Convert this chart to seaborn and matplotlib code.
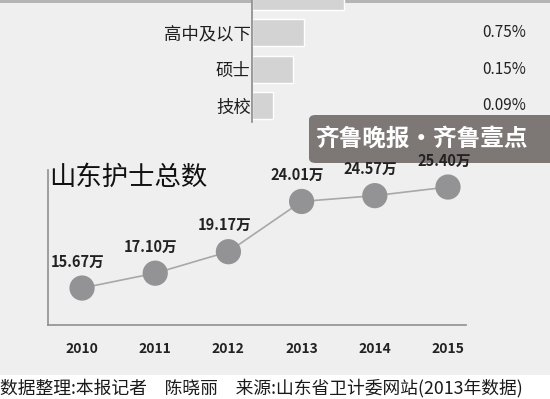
import numpy as np
import pandas as pd
import matplotlib
matplotlib.use("Agg")
import matplotlib.pyplot as plt
import matplotlib.transforms as mtransforms
from matplotlib.patches import FancyBboxPatch, Rectangle
import seaborn as sns

# education breakdown (top bar is cut off in the source, label not visible)
edu_labels = ["", "高中及以下", "硕士", "技校"]
edu_pct = ["", "0.75%", "0.15%", "0.09%"]
edu_bar = [31.0, 17.4, 13.8, 7.0]   # bar lengths as drawn in the picture

# nurses in Shandong (unit: 万)
years = [2010, 2011, 2012, 2013, 2014, 2015]
nurses = [15.67, 17.10, 19.17, 24.01, 24.57, 25.40]

title = "山东护士总数"
footer = "数据整理:本报记者　陈晓丽　来源:山东省卫计委网站(2013年数据)"
watermark = "齐鲁晚报·齐鲁壹点"

sns.set_style("white")
plt.rcParams['font.family'] = ['Noto Sans CJK SC', 'DejaVu Sans']

BG = "#efefef"
W, H = 550, 399
fig = plt.figure(figsize=(5.5, 3.99), dpi=100, facecolor=BG)

# ---- top: horizontal bars ----
ax1 = fig.add_axes([252 / W, 1 - 122 / H, (W - 252) / W, 122 / H])
ax1.set_facecolor("none")
edu_df = pd.DataFrame({"label": edu_labels, "bar": edu_bar})
sns.barplot(data=edu_df, x="bar", y="label", orient="h", color="#d3d3d3",
            saturation=1, width=0.74, ax=ax1)
ax1.set_xlim(0, 100)
ax1.set_ylim(3.45, 0.096)
ax1.set_xlabel("")
ax1.set_ylabel("")
ax1.set_xticks([])
ax1.tick_params(axis="y", length=0, pad=1, labelsize=12.5, labelcolor="#1e1e1e")
for s in ["top", "right", "bottom"]:
    ax1.spines[s].set_visible(False)
ax1.spines["left"].set_color("#8a8a8a")
ax1.spines["left"].set_linewidth(1.2)
trans = mtransforms.blended_transform_factory(ax1.transAxes, ax1.transData)
for i, p in enumerate(edu_pct):
    ax1.text(0.92, i, p, transform=trans, ha="right", va="center",
             fontsize=11, color="#222222")

# ---- bottom: line chart ----
ax2 = fig.add_axes([48 / W, 1 - 325 / H, (466 - 48) / W, (325 - 170) / H])
ax2.set_facecolor("none")
sns.lineplot(x=years, y=nurses, color="#a8a8a8", linewidth=1.2, ax=ax2, zorder=2)
sns.scatterplot(x=years, y=nurses, s=330, color="#939396", edgecolor="none",
                ax=ax2, zorder=3)
ax2.set_xlim(2009.535, 2015.246)
ax2.set_ylim(12.11, 27.04)
ax2.set_yticks([])
ax2.set_xticks(years)
ax2.set_xticklabels([str(y) for y in years], fontsize=10, fontweight="bold",
                    color="#222222")
ax2.tick_params(axis="x", length=0, pad=12)
for s in ["top", "right"]:
    ax2.spines[s].set_visible(False)
for s in ["left", "bottom"]:
    ax2.spines[s].set_color("#8f8f8f")
    ax2.spines[s].set_linewidth(1.2)
for x, v in zip(years, nurses):
    ax2.annotate(f"{v:.2f}万", (x, v), xytext=(-3, 19), textcoords="offset points",
                 ha="center", va="center", fontsize=10.5, fontweight="bold",
                 color="#222222", annotation_clip=False, zorder=5)

fig.text(49 / W, 1 - 177 / H, title, fontsize=19, va="center", ha="left",
         color="#111111")

# watermark box
box = FancyBboxPatch((309 / W, 1 - 163 / H), 260 / W, 48 / H,
                     boxstyle="round,pad=0,rounding_size=0.012",
                     transform=fig.transFigure, facecolor="#7d7876",
                     edgecolor="none", zorder=-1)
fig.patches.append(box)
fig.text(315 / W, 1 - 139 / H, watermark, fontsize=17, fontweight="bold",
         color="white", va="center", ha="left", zorder=-1)

# top strip and footer band
fig.patches.append(Rectangle((0, 1 - 3 / H), 1, 3 / H, transform=fig.transFigure,
                             facecolor="#b5b5b5", edgecolor="none", zorder=-1))
fig.patches.append(Rectangle((0, 0), 1, 24 / H, transform=fig.transFigure,
                             facecolor="white", edgecolor="none", zorder=-1))
fig.text(0, 1 - 388 / H, footer, fontsize=12.8, va="center", ha="left",
         color="#1a1a1a")

fig.savefig("out.png", dpi=100, facecolor=BG)
